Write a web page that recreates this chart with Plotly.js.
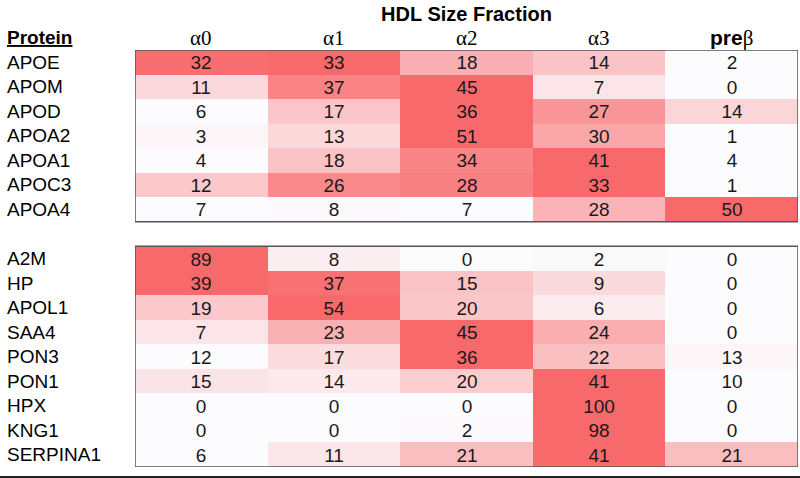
<!DOCTYPE html>
<html>
<head>
<meta charset="utf-8">
<script src="https://cdn.plot.ly/plotly-3.0.1.min.js"></script>
<style>
  body { margin: 0; background: #fff; }
  #plot { width: 800px; height: 478px; }
</style>
</head>
<body>
<div id="plot"></div>
<script>
const fractions = ["α0", "α1", "α2", "α3", "preβ"];

const groupA = ["APOE", "APOM", "APOD", "APOA2", "APOA1", "APOC3", "APOA4"];
const valuesA = [
	[32, 33, 18, 14, 2],
	[11, 37, 45, 7, 0],
	[6, 17, 36, 27, 14],
	[3, 13, 51, 30, 1],
	[4, 18, 34, 41, 4],
	[12, 26, 28, 33, 1],
	[7, 8, 7, 28, 50]
];

const groupB = ["A2M", "HP", "APOL1", "SAA4", "PON3", "PON1", "HPX", "KNG1", "SERPINA1"];
const valuesB = [
	[89, 8, 0, 2, 0],
	[39, 37, 15, 9, 0],
	[19, 54, 20, 6, 0],
	[7, 23, 45, 24, 0],
	[12, 17, 36, 22, 13],
	[15, 14, 20, 41, 10],
	[0, 0, 0, 100, 0],
	[0, 0, 2, 98, 0],
	[6, 11, 21, 41, 21]
];

// rows top to bottom, one empty row between the two groups
const proteins = [...groupA, "", ...groupB];
const values = [...valuesA, null, ...valuesB];

// colour is scaled inside each row (min -> white, max -> red)
const z = values.map(row => {
	if (!row) return fractions.map(() => null);
	const lo = Math.min(...row), hi = Math.max(...row);
	return row.map(v => (hi === lo ? 0 : (v - lo) / (hi - lo)));
});
const text = values.map(row => row ? row.map(String) : fractions.map(() => ""));
const rowIdx = proteins.map((_, i) => i);
const colIdx = fractions.map((_, i) => i);

const trace = {
	type: "heatmap",
	x: colIdx,
	y: rowIdx,
	z: z,
	text: text,
	texttemplate: "%{text}",
	textfont: { family: "Liberation Sans, Arial", size: 19, color: "#1a1a1a" },
	colorscale: [[0, "#FCFCFF"], [1, "#F8696B"]],
	zmin: 0,
	zmax: 1,
	showscale: false,
	hoverongaps: false,
	xgap: 0,
	ygap: 0
};

const serif = "Liberation Serif, Times New Roman, serif";
const sans = "Liberation Sans, Arial, sans-serif";

const annotations = [];
fractions.forEach((f, i) => {
	let label = f;
	let family = serif;
	if (f === "preβ") {
		label = '<b>pre</b><span style="font-family:' + serif + '">β</span>';
		family = sans;
	}
	annotations.push({
		x: i, xref: "x", y: 1.029, yref: "paper",
		text: label, showarrow: false,
		xanchor: "center", yanchor: "middle",
		font: { family: family, size: 21, color: "#000" }
	});
});
proteins.forEach((p, i) => {
	if (!p) return;
	annotations.push({
		x: -0.196, xref: "paper", y: i, yref: "y",
		text: p, showarrow: false,
		xanchor: "left", yanchor: "middle",
		font: { family: sans, size: 19, color: "#000" }
	});
});
annotations.push({
	x: -0.196, xref: "paper", y: 1.029, yref: "paper",
	text: "<b><u>Protein</u></b>", showarrow: false,
	xanchor: "left", yanchor: "middle",
	font: { family: sans, size: 19, color: "#000" }
});

const layout = {
	width: 800,
	height: 478,
	margin: { l: 135, r: 2, t: 50, b: 11 },
	paper_bgcolor: "#fff",
	plot_bgcolor: "#fff",
	title: {
		text: "<b>HDL Size Fraction</b>",
		x: 0.5, xref: "paper",
		y: 0.97, yref: "container", yanchor: "middle",
		font: { family: sans, size: 20, color: "#000" }
	},
	xaxis: {
		range: [-0.5, 4.5],
		showticklabels: false, showgrid: false, zeroline: false, ticks: ""
	},
	yaxis: {
		range: [16.5, -0.5],
		showticklabels: false, showgrid: false, zeroline: false, ticks: ""
	},
	annotations: annotations,
	shapes: [
		{ type: "rect", xref: "x", yref: "y", x0: -0.5, x1: 4.5, y0: -0.5, y1: groupA.length - 0.5,
			line: { color: "#555", width: 1.5 } },
		{ type: "rect", xref: "x", yref: "y", x0: -0.5, x1: 4.5, y0: groupA.length + 0.5, y1: proteins.length - 0.5,
			line: { color: "#555", width: 1.5 } },
		{ type: "line", xref: "paper", yref: "paper", x0: -0.21, x1: 1.01, y0: -0.024, y1: -0.024,
			line: { color: "#222", width: 2 } }
	]
};

Plotly.newPlot("plot", [trace], layout, { displayModeBar: false, staticPlot: true });
</script>
</body>
</html>
